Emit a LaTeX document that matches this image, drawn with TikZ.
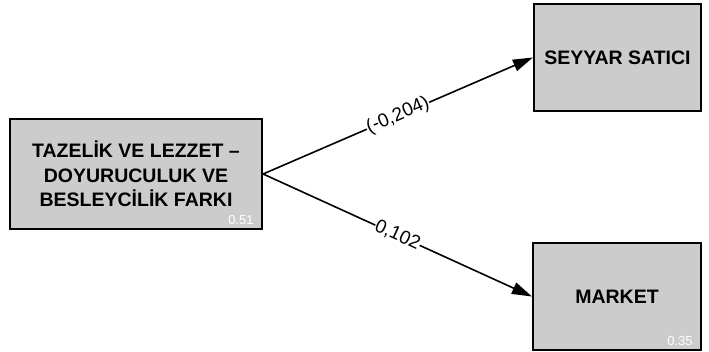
\documentclass[tikz,border=0pt]{standalone}
\usepackage{fontspec}
\setmainfont{Liberation Sans}
\usetikzlibrary{arrows.meta}
\begin{document}
\begin{tikzpicture}[x=1pt,y=1pt,
  box/.style={draw=black, line width=2.2pt, fill=black!20, align=center, inner sep=0pt,
    font=\fontsize{19.5}{24.5}\selectfont\bfseries},
  conn/.style={line width=1.6pt, -{Triangle[length=20pt,width=12pt]}},
  lbl/.style={fill=white, inner sep=0.5pt, sloped, font=\fontsize{19}{20}\selectfont},
  rsq/.style={text=white, font=\fontsize{13}{14}\selectfont}]
\useasboundingbox (0,0) rectangle (709,352);
\node[box, minimum width=252pt, minimum height=110pt] (src) at (136,178)
  {TAZELİK VE LEZZET –\\DOYURUCULUK VE\\BESLEYCİLİK FARKI};
\node[box, minimum width=167pt, minimum height=107pt] (sey) at (617.5,294.5) {SEYYAR SATICI};
\node[box, minimum width=168pt, minimum height=107pt] (mar) at (617,55.5) {MARKET};
\node[rsq, anchor=south east] (r1) at (src.south east) [xshift=-6pt, yshift=2pt] {0.51};
\node[rsq, anchor=south east] (r3) at (mar.south east) [xshift=-6pt, yshift=2pt] {0.35};
\draw[conn] (src.east) -- node[lbl] (l1) {(-0,204)} (sey.west);
\draw[conn] (src.east) -- node[lbl] (l2) {0,102} (mar.west);
\end{tikzpicture}
\end{document}
